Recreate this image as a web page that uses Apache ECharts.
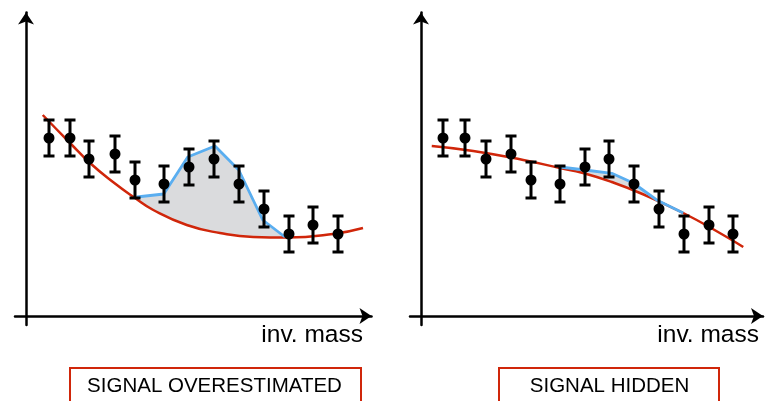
<!DOCTYPE html>
<html>
<head>
<meta charset="utf-8">
<script src="https://cdn.jsdelivr.net/npm/echarts@6/dist/echarts.min.js"></script>
<style>
  html, body { margin: 0; padding: 0; background: #fff; }
  #chart { width: 769px; height: 401px; }
</style>
</head>
<body>
<div id="chart"></div>
<script>
// Binned invariant-mass spectrum, shown twice with two different fits.
const massLeft  = [0.92, 1.76, 2.52, 3.56, 4.36, 5.52, 6.52, 7.52, 8.52, 9.52, 10.52, 11.48, 12.48];
const massRight = [0.88, 1.76, 2.60, 3.60, 4.40, 5.56, 6.56, 7.52, 8.52, 9.52, 10.52, 11.52, 12.48];
const counts    = [17.8, 17.8, 15.7, 16.2, 13.6, 13.2, 14.9, 15.7, 13.2, 10.7, 8.2, 9.1, 8.2];
const errors    = [1.8, 1.8, 1.8, 1.8, 1.8, 1.8, 1.8, 1.8, 1.8, 1.8, 1.8, 1.8, 1.8];

// Background-only fit (red) and background + signal (blue), left panel
const bkgLeft = [[0.67, 20.1], [1.76, 17.3], [2.56, 15.3], [3.48, 13.4], [4.36, 11.8], [5.09, 10.6],
                 [6.43, 9.1], [7.76, 8.3], [9.09, 7.9], [10.44, 7.85], [12.28, 8.2], [13.48, 8.8]];
const sigLeft = [[4.43, 11.9], [5.51, 12.2], [6.47, 15.9], [7.56, 17.0], [8.51, 14.6], [9.47, 9.6], [10.36, 7.9]];

// Same two curves, right panel
const bkgRight = [[0.43, 17.0], [2.09, 16.5], [4.09, 15.6], [5.56, 14.8], [6.48, 14.3], [7.63, 13.4],
                  [8.76, 12.3], [10.49, 10.3], [12.09, 8.1], [12.89, 6.9]];
const sigRight = [[5.56, 14.9], [6.56, 14.6], [7.63, 14.27], [8.49, 13.3], [9.43, 11.6], [10.49, 10.3]];

const panelTitles = ['SIGNAL OVERESTIMATED', 'SIGNAL HIDDEN'];
const axisName = 'inv. mass';

const RED = '#d0260a';
const BLUE = '#5aaef0';
const GREY = '#dadbdd';
const FONT = '"Liberation Sans", Arial, Helvetica, sans-serif';

function xAxisFor(gridIndex, max) {
  return {
    type: 'value', gridIndex, min: -0.44, max, z: 10,
    axisLine: { show: true, onZero: true, symbol: ['none', 'arrow'], symbolSize: [12, 12],
                lineStyle: { color: '#000', width: 2.5 } },
    axisTick: { show: false }, axisLabel: { show: false }, splitLine: { show: false }
  };
}
function yAxisFor(gridIndex) {
  return {
    type: 'value', gridIndex, min: -0.9, max: 30.35, z: 10,
    axisLine: { show: true, onZero: true, symbol: ['none', 'arrow'], symbolSize: [12, 12],
                lineStyle: { color: '#000', width: 2.5 } },
    axisTick: { show: false }, axisLabel: { show: false }, splitLine: { show: false }
  };
}

function panelSeries(idx, mass, bkg, sig) {
  const ax = { xAxisIndex: idx, yAxisIndex: idx };
  return [
    // shaded region under the signal curve (masked below the background fit)
    Object.assign({ type: 'line', data: sig, symbol: 'none', z: 1, silent: true,
      lineStyle: { width: 0 }, areaStyle: { color: GREY, opacity: 1 } }, ax),
    // background fit, filling white underneath
    Object.assign({ type: 'line', data: bkg, symbol: 'none', smooth: 0.5, z: 2, silent: true,
      lineStyle: { color: RED, width: 2.5 }, areaStyle: { color: '#fff', opacity: 1 } }, ax),
    // signal + background
    Object.assign({ type: 'line', data: sig, symbol: 'none', z: 3, silent: true,
      lineStyle: { color: BLUE, width: 2.8 } }, ax),
    // error bars
    Object.assign({ type: 'custom', z: 4, silent: true,
      data: mass.map((m, i) => [m, counts[i] - errors[i], counts[i] + errors[i]]),
      encode: { x: 0, y: [1, 2] },
      renderItem(params, api) {
        const lo = api.coord([api.value(0), api.value(1)]);
        const hi = api.coord([api.value(0), api.value(2)]);
        const hw = 5.5;
        const style = { stroke: '#000', lineWidth: 3 };
        return { type: 'group', children: [
          { type: 'line', shape: { x1: lo[0], y1: lo[1], x2: hi[0], y2: hi[1] }, style },
          { type: 'line', shape: { x1: lo[0] - hw, y1: lo[1], x2: lo[0] + hw, y2: lo[1] }, style },
          { type: 'line', shape: { x1: hi[0] - hw, y1: hi[1], x2: hi[0] + hw, y2: hi[1] }, style }
        ] };
      } }, ax),
    // data points
    Object.assign({ type: 'scatter', z: 5, silent: true, symbolSize: 11,
      itemStyle: { color: '#000', opacity: 1 },
      data: mass.map((m, i) => [m, counts[i]]) }, ax)
  ];
}

const chart = echarts.init(document.getElementById('chart'), null, { renderer: 'canvas' });
chart.setOption({
  animation: false,
  backgroundColor: '#fff',
  grid: [
    { left: 15, top: 12.5, width: 356.5, height: 312.5 },
    { left: 410, top: 12.5, width: 353, height: 312.5 }
  ],
  xAxis: [xAxisFor(0, 13.82), xAxisFor(1, 13.68)],
  yAxis: [yAxisFor(0), yAxisFor(1)],
  series: [].concat(
    panelSeries(0, massLeft, bkgLeft, sigLeft),
    panelSeries(1, massRight, bkgRight, sigRight)
  ),
  graphic: [
    { type: 'text', z: 20, style: { x: 363, y: 335.5, text: axisName, textAlign: 'right',
      textVerticalAlign: 'middle', font: '24.5px ' + FONT, fill: '#000' } },
    { type: 'text', z: 20, style: { x: 759, y: 335.5, text: axisName, textAlign: 'right',
      textVerticalAlign: 'middle', font: '24.5px ' + FONT, fill: '#000' } },
    { type: 'rect', z: 20, shape: { x: 70, y: 368, width: 291, height: 50 },
      style: { fill: '#fff', stroke: RED, lineWidth: 2 } },
    { type: 'rect', z: 20, shape: { x: 499, y: 368, width: 220, height: 50 },
      style: { fill: '#fff', stroke: RED, lineWidth: 2 } },
    { type: 'text', z: 21, style: { x: 214.5, y: 386, text: panelTitles[0], textAlign: 'center',
      textVerticalAlign: 'middle', font: '20.5px ' + FONT, fill: '#000' } },
    { type: 'text', z: 21, style: { x: 609.5, y: 386, text: panelTitles[1], textAlign: 'center',
      textVerticalAlign: 'middle', font: '20.5px ' + FONT, fill: '#000' } }
  ]
});
</script>
</body>
</html>
